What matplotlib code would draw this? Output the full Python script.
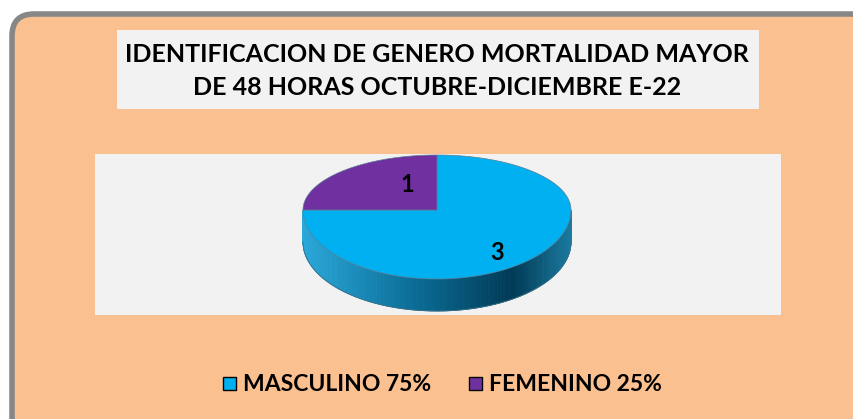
import numpy as np
import matplotlib
matplotlib.use("Agg")
import matplotlib.pyplot as plt
from matplotlib.patches import FancyBboxPatch, Rectangle, Polygon

titulo = "IDENTIFICACION DE GENERO MORTALIDAD MAYOR\nDE 48 HORAS OCTUBRE-DICIEMBRE E-22"
categorias = ["MASCULINO 75%", "FEMENINO 25%"]
valores = [3, 1]
colores = ["#00B0F0", "#7030A0"]

W, H = 854, 419
fig = plt.figure(figsize=(W / 100, H / 100), dpi=100)
fig.patch.set_facecolor("white")
ax = fig.add_axes([0, 0, 1, 1])
ax.set_xlim(0, W)
ax.set_ylim(H, 0)
ax.axis("off")

fuente = "Lato"
peso = "bold"

# fondo del grafico
ax.add_patch(FancyBboxPatch((12, 14), 860, 430, boxstyle="round,pad=0,rounding_size=22",
                            facecolor="#FAC090", edgecolor="#878787", linewidth=4))

# titulo
ax.add_patch(Rectangle((117, 30), 642, 79, facecolor="#F2F2F2", edgecolor="none"))
ax.text(437, 71, titulo, ha="center", va="center", fontsize=18, fontweight=peso,
        family=fuente, linespacing=1.55, color="black")

# area del grafico
ax.add_patch(Rectangle((95, 154), 686, 161, facecolor="#F2F2F2", edgecolor="none"))

# pie 3d
cx, cy = 437, 210
rx = 134
ry_arr, ry_ab = 55, 69   # perspectiva: mitad de atras mas corta
prof = 32

def elipse(t):
    s = np.sin(t)
    return cx + rx * np.cos(t), cy - np.where(s > 0, ry_arr, ry_ab) * s

total = sum(valores)
angulos = []
a = 90.0
for v in valores:
    # sentido horario, como excel
    a2 = a - 360.0 * v / total
    angulos.append((a, a2))
    a = a2

# pared lateral (mitad frontal)
pared = [(0.0, "#2AA8DA"), (0.4, "#0B6E98"), (0.78, "#003A55"), (1.0, "#1A7AA0")]
def color_pared(t):
    xs = [p[0] for p in pared]
    cs = [matplotlib.colors.to_rgb(p[1]) for p in pared]
    return tuple(np.interp(t, xs, [c[i] for c in cs]) for i in range(3))

n = 160
th = np.linspace(np.pi, 2 * np.pi, n + 1)
for i in range(n):
    (x0, x1), (y0, y1) = elipse(th[i:i + 2])
    c = color_pared((x0 - (cx - rx)) / (2 * rx))
    ax.add_patch(Polygon([(x0, y0), (x1, y1), (x1, y1 + prof), (x0, y0 + prof)],
                         closed=True, facecolor=c, edgecolor=c, linewidth=0.6))

tb = np.linspace(np.pi, 2 * np.pi, 200)
xb, yb = elipse(tb)
ax.plot(xb, yb + prof, color="#3A6F86", lw=0.6)

# cara superior
for (a1, a2), col in zip(angulos, colores):
    xs, ys = elipse(np.radians(np.linspace(a1, a2, 200)))
    pts = [(cx, cy)] + list(zip(xs, ys))
    ax.add_patch(Polygon(pts, closed=True, facecolor=col, edgecolor="#5A7F95", linewidth=0.5))

# etiquetas de datos
ax.text(407, 184, str(valores[1]), ha="center", va="center", fontsize=17,
        fontweight=peso, family=fuente)
ax.text(497, 252, str(valores[0]), ha="center", va="center", fontsize=17,
        fontweight=peso, family=fuente)

# leyenda
ley_x = [223, 469]
for xq, cat, col in zip(ley_x, categorias, colores):
    ax.add_patch(Rectangle((xq, 377), 13, 13, facecolor=col, edgecolor="black", linewidth=1))
    ax.text(xq + 20, 384, cat, ha="left", va="center", fontsize=16.5, fontweight=peso,
            family=fuente)

fig.savefig("out.png", dpi=100, facecolor=fig.get_facecolor())
